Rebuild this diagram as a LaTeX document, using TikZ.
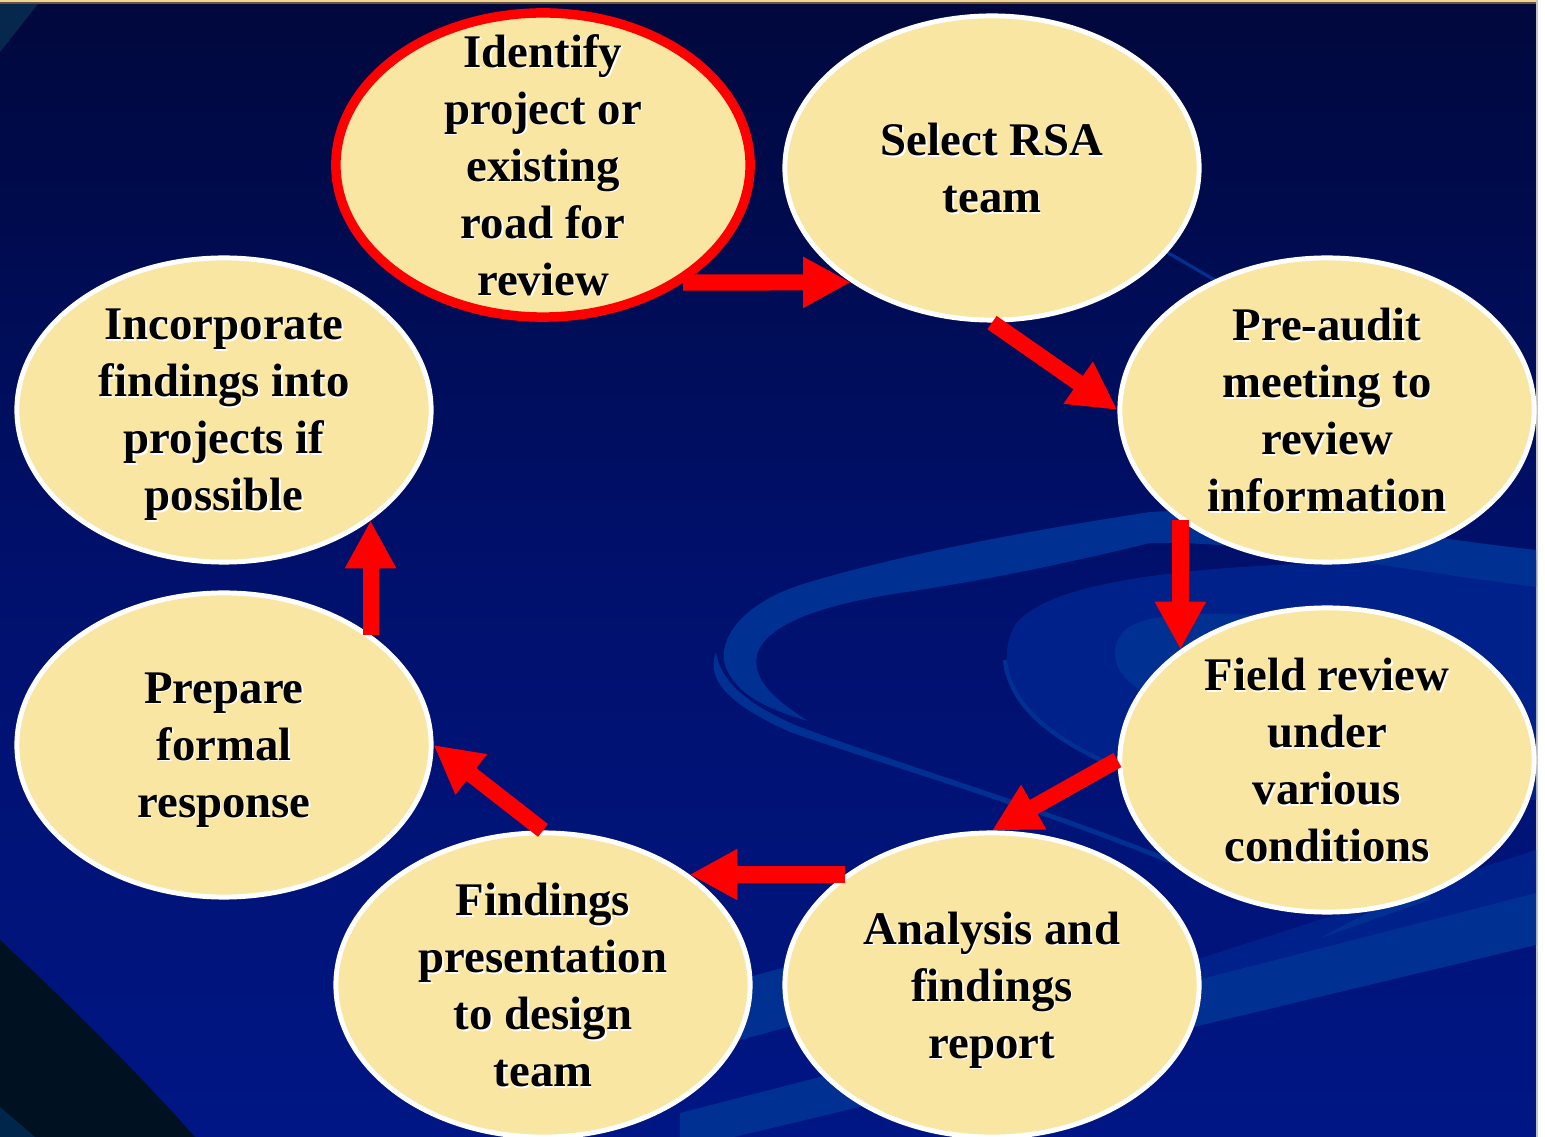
\documentclass[tikz,border=0pt]{standalone}
\usepackage{fontspec}
\setmainfont{Liberation Serif}
\usetikzlibrary{shapes.geometric,arrows.meta}

\definecolor{slidetop}{RGB}{0,8,60}
\definecolor{slidemid}{RGB}{0,16,108}
\definecolor{slidebot}{RGB}{0,22,132}
\definecolor{swoosh}{RGB}{0,48,145}
\definecolor{swooshdim}{RGB}{0,32,138}
\definecolor{cornerdark}{RGB}{0,18,34}
\definecolor{cornerband}{RGB}{0,38,76}
\definecolor{cornerteal}{RGB}{6,40,76}
\definecolor{stagefill}{RGB}{248,230,162}
\definecolor{trimtan}{RGB}{238,212,150}
\definecolor{trimbrown}{RGB}{110,85,60}

\begin{document}
\begin{tikzpicture}[x=0.01cm,y=-0.01cm,
 stage/.style ={ellipse, draw=white, line width=1.4pt, fill=stagefill, minimum width=4.14cm, minimum height=3.04cm, inner sep=0pt},
 firststage/.style ={stage, draw=red, line width=2.7pt},
 words/.style ={align=center, text=black, inner sep=0pt, font=\fontsize{13.3}{16.2}\selectfont\bfseries},
 glow/.style ={words, text=white},
 flow/.style ={draw=red, line width=4.6pt, -{Triangle[width=13.6pt,length=13.6pt]}},
 band/.style ={fill=swoosh}]

% slide background
\useasboundingbox (0,0) rectangle (1545,1137);
\fill[white] (0,0) rectangle (1545,1137);
\shade[top color=slidetop, bottom color=slidebot, middle color=slidemid] (0,4) rectangle (1536,1137);
\fill[trimtan] (0,0) rectangle (1536,2.5);
\fill[trimbrown] (0,2.5) rectangle (1536,4);
\fill[gray!45] (1536,0) rectangle (1537.5,1137);
\fill[cornerteal] (0,4) -- (38,4) -- (0,52) -- cycle;

% swooshes
\fill[swooshdim] (1536,560) .. controls (1300,560) and (1060,565) .. (1015,625)
 .. controls (995,660) and (1010,710) .. (1080,750) -- (1200,800) -- (1536,800) -- cycle;
\draw[swoosh, line width=1.2pt] (1005,660) .. controls (1010,710) and (1060,745) .. (1135,775);
\fill[band] (1400,625) .. controls (1300,620) and (1160,600) .. (1125,630)
 .. controls (1105,650) and (1115,680) .. (1150,695)
 .. controls (1200,680) and (1300,665) .. (1400,665) -- cycle;
\fill[band] (1536,550) .. controls (1400,535) and (1250,505) .. (1150,512)
 .. controls (1000,535) and (880,560) .. (800,585)
 .. controls (740,605) and (718,640) .. (725,665)
 .. controls (735,695) and (770,710) .. (808,721)
 .. controls (775,700) and (752,680) .. (757,655)
 .. controls (765,625) and (820,605) .. (900,593)
 .. controls (1000,578) and (1080,560) .. (1150,543)
 .. controls (1250,540) and (1400,570) .. (1536,587) -- cycle;
\fill[band] (716,652) .. controls (705,680) and (730,705) .. (790,732)
 .. controls (900,770) and (1080,822) .. (1220,885) -- (1220,880)
 .. controls (1080,817) and (900,765) .. (795,725)
 .. controls (745,703) and (720,680) .. (716,652) -- cycle;
\draw[swoosh, line width=0.9pt] (1160,248) -- (1235,292);
\fill[swooshdim] (1536,850) -- (1536,893) -- (1195,982) -- (1195,960) -- cycle;
\fill[band] (1536,893) -- (680,1113) -- (680,1150) -- (1536,945) -- cycle;
\fill[band] (1320,938) -- (1430,880) -- (1430,900) -- cycle;
\fill[band] (700,990) -- (850,950) -- (850,1010) -- (700,1051) -- cycle;
\fill[cornerdark] (0,940) .. controls (70,1005) and (140,1075) .. (195,1137) -- (0,1137) -- cycle;
\fill[cornerband] (0,1107) -- (35,1137) -- (0,1137) -- cycle;

% the eight steps
\draw (543,165) node[firststage] (ident) {};
\draw (992,168) node[stage] (rsa) {};
\draw (1327,410) node[stage] (preaudit) {};
\draw (1327,760) node[stage] (field) {};
\draw (992,985) node[stage] (analysis) {};
\draw (543,985) node[stage] (present) {};
\draw (224,745) node[stage] (respond) {};
\draw (224,410) node[stage] (incorp) {};

\draw (ident) ++(1.6,1.6) node[glow] (identsh) {Identify\\project or\\existing\\road for\\review};
\draw (ident) node[words] (identtx) {Identify\\project or\\existing\\road for\\review};
\draw (rsa) ++(1.6,1.6) node[glow] (rsash) {Select RSA\\team};
\draw (rsa) node[words] (rsatx) {Select RSA\\team};
\draw (preaudit) ++(1.6,1.6) node[glow] (preauditsh) {Pre-audit\\meeting to\\review\\information};
\draw (preaudit) node[words] (preaudittx) {Pre-audit\\meeting to\\review\\information};
\draw (field) ++(1.6,1.6) node[glow] (fieldsh) {Field review\\under\\various\\conditions};
\draw (field) node[words] (fieldtx) {Field review\\under\\various\\conditions};
\draw (analysis) ++(1.6,6.6) node[glow] (analysissh) {Analysis and\\findings\\report};
\draw (analysis) ++(0,5) node[words] (analysistx) {Analysis and\\findings\\report};
\draw (present) ++(1.6,1.6) node[glow] (presentsh) {Findings\\presentation\\to design\\team};
\draw (present) node[words] (presenttx) {Findings\\presentation\\to design\\team};
\draw (respond) ++(1.6,6.6) node[glow] (respondsh) {Prepare\\formal\\response};
\draw (respond) ++(0,5) node[words] (respondtx) {Prepare\\formal\\response};
\draw (incorp) ++(1.6,6.6) node[glow] (incorpsh) {Incorporate\\findings into\\projects if\\possible};
\draw (incorp) ++(0,5) node[words] (incorptx) {Incorporate\\findings into\\projects if\\possible};

% cycle arrows
\draw [flow] (ident.-40) to (rsa.-141);
\draw [flow] (rsa.south) to (preaudit.west);
\draw [flow] (preaudit.-143) to (field.143);
\draw [flow] (field.west) to (analysis.north);
\draw [flow] (analysis.143) to (present.37);
\draw [flow] (present.north) to (respond.east);
\draw [flow] (respond.37) to (incorp.-37);

\end{tikzpicture}
\end{document}
